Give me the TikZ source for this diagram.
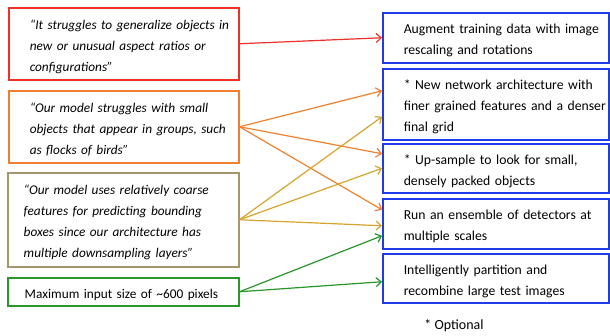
\documentclass[tikz,border=0pt]{standalone}
\usepackage{fontspec}
\setmainfont{Carlito}
\usetikzlibrary{arrows.meta}

\definecolor{issuered}{RGB}{238,48,40}
\definecolor{issueorange}{RGB}{240,128,48}
\definecolor{issuetan}{RGB}{165,150,110}
\definecolor{linktan}{RGB}{212,165,45}
\definecolor{issuegreen}{RGB}{40,150,40}
\definecolor{fixblue}{RGB}{30,60,235}

\begin{document}
\begin{tikzpicture}[x=1pt, y=-1pt,
    box/.style={draw, line width=1.5pt, anchor=north west, align=left,
        inner xsep=0pt, inner ysep=0pt},
    % text indented from the left border, and sitting a little low
    pad/.style={execute at begin node={\leftskip=#1\relax\rule{0pt}{15.5pt}}},
    issue/.style={box, pad=21pt, text width=230pt, minimum height=#1,
        font=\fontsize{13.3}{21}\selectfont},
    fix/.style={box, pad=21pt, draw=fixblue, text width=226pt, minimum height=#1,
        font=\fontsize{13.7}{21}\selectfont},
    link/.style={line width=1.2pt, -{Straight Barb[length=5pt, width=9pt]}}]

    \useasboundingbox (0,0) rectangle (610,335);

    % Problems on the left
    \node[issue=72pt, draw=issuered] (red) at (8,7)
        {\itshape “It struggles to generalize objects in\\ new or unusual aspect ratios or\\ configurations”};
    \node[issue=72pt, draw=issueorange] (orange) at (8,90)
        {\itshape “Our model struggles with small\\ objects that appear in groups, such\\ as flocks of birds”};
    \node[issue=94pt, draw=issuetan, text width=231pt, pad=16pt] (tan) at (7,172)
        {\itshape “Our model uses relatively coarse\\ features for predicting bounding\\ boxes since our architecture has\\ multiple downsampling layers”};
    \node[issue=28pt, draw=issuegreen, text width=231pt, pad=17pt] (green) at (7,277)
        {Maximum input size of \textasciitilde600 pixels};

    % Remedies on the right
    \node[fix=50pt] (augment) at (382,12) {Augment training data with image\\ rescaling and rotations};
    \node[fix=71pt] (arch) at (382,68) {* New network architecture with\\ finer grained features and a denser\\ final grid};
    \node[fix=49pt] (upsample) at (382,143) {* Up-sample to look for small,\\ densely packed objects};
    \node[fix=50pt] (ensemble) at (382,198) {Run an ensemble of detectors at\\ multiple scales};
    \node[fix=49pt] (partition) at (382,253) {Intelligently partition and\\ recombine large test images};

    \node[font=\fontsize{14}{16}\selectfont] (optional) at (454,326) {* Optional};

    % Links from problems to remedies
    \draw[link, issuered] (red.east) -- (augment.west);
    \draw[link, issueorange] (orange.east) -- ([yshift=13.5pt]arch.west);
    \draw[link, issueorange] (orange.east) -- ([yshift=14.5pt]upsample.west);
    \draw[link, issueorange] (orange.east) -- ([yshift=14pt]ensemble.west);
    \draw[link, linktan] (tan.east) -- ([yshift=-12.5pt]arch.west);
    \draw[link, linktan] (tan.east) -- (upsample.west);
    \draw[link, linktan] (tan.east) -- ([yshift=-2pt]ensemble.west);
    \draw[link, issuegreen] (green.east) -- ([yshift=-12pt]ensemble.west);
    \draw[link, issuegreen] (green.east) -- ([yshift=-3.5pt]partition.west);

\end{tikzpicture}
\end{document}
